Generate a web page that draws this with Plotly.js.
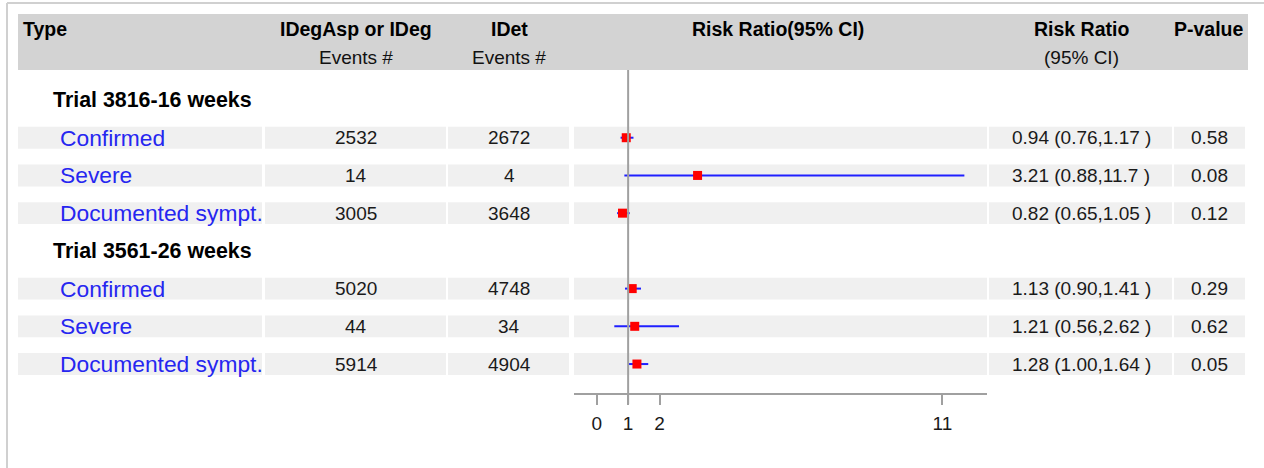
<!DOCTYPE html>
<html>
<head>
<meta charset="utf-8">
<script src="https://cdn.plot.ly/plotly-3.0.1.min.js"></script>
<style>
  html, body { margin: 0; padding: 0; background: #ffffff; }
  #chart { width: 1264px; height: 468px; }
</style>
</head>
<body>
<div id="chart"></div>
<script>
// ---------------- data ----------------
const groups = ["Trial 3816-16 weeks", "Trial 3561-26 weeks"];
const groupOf = [0, 0, 0, 1, 1, 1];
const types = ["Confirmed", "Severe", "Documented sympt.", "Confirmed", "Severe", "Documented sympt."];
const idegEvents = [2532, 14, 3005, 5020, 44, 5914];
const idetEvents = [2672, 4, 3648, 4748, 34, 4904];
const riskRatio = [0.94, 3.21, 0.82, 1.13, 1.21, 1.28];
const ciLower = [0.76, 0.88, 0.65, 0.90, 0.56, 1.00];
const ciUpper = [1.17, 11.7, 1.05, 1.41, 2.62, 1.64];
const pValues = [0.58, 0.08, 0.12, 0.29, 0.62, 0.05];
const xTickVals = [0, 1, 2, 11];
const xTickText = ["0", "1", "2", "11"];
const headerTop = ["Type", "IDegAsp or IDeg", "IDet", "Risk Ratio(95% CI)", "Risk Ratio", "P-value"];
const headerSub = ["", "Events #", "Events #", "", "(95% CI)", ""];

// ---------------- layout helpers (pixels) ----------------
const W = 1264, H = 468;
const px = x => x / W;
const py = y => 1 - y / H;
const FONT = "Liberation Sans, Arial, Helvetica, sans-serif";
const ROW0 = 100, PITCH = 37.72;
const yRange = [(H - ROW0) / PITCH, -ROW0 / PITCH];

// row index for each data row and group headings
const headingRow = [];
const dataRow = [];
let r = 0;
groups.forEach((g, gi) => {
  headingRow.push(r); r++;
  groupOf.forEach((go, i) => { if (go === gi) { dataRow[i] = r; r++; } });
});

const cols = [[18, 262], [265, 446], [448, 569], [574, 987], [989, 1172], [1174, 1245]];
const headerCenters = [null, 356, 509, 778, 1081, 1209];

const fmt = v => (v >= 10 ? v.toFixed(1) : v.toFixed(2));

const shapes = [];
const annotations = [];

// outer frame lines
shapes.push({type: "line", xref: "paper", yref: "paper", x0: px(7), x1: 1, y0: py(3), y1: py(3),
  line: {color: "#d0d0d0", width: 2}, layer: "below"});
shapes.push({type: "line", xref: "paper", yref: "paper", x0: px(7), x1: px(7), y0: py(3), y1: 0,
  line: {color: "#d0d0d0", width: 2}, layer: "below"});

// header band
shapes.push({type: "rect", xref: "paper", yref: "paper", x0: px(18), x1: px(1248), y0: py(70), y1: py(14),
  fillcolor: "#d3d3d3", line: {width: 0}, layer: "below"});

// row bands
dataRow.forEach(rowIdx => {
  cols.forEach(c => {
    shapes.push({type: "rect", xref: "paper", yref: "y", x0: px(c[0]), x1: px(c[1]),
      y0: rowIdx - 0.29, y1: rowIdx + 0.29, fillcolor: "#f0f0f0", line: {width: 0}, layer: "below"});
  });
});

// reference line at RR = 1
shapes.push({type: "line", xref: "x", yref: "paper", x0: 1, x1: 1, y0: py(70), y1: py(404),
  line: {color: "#a0a0a0", width: 2}, layer: "above"});

// header texts
annotations.push({text: "<b>" + headerTop[0] + "</b>", xref: "paper", yref: "paper", x: px(21), y: py(29),
  xanchor: "left", yanchor: "middle", showarrow: false, font: {family: FONT, size: 19.5, color: "#000"}});
for (let k = 1; k < headerTop.length; k++) {
  annotations.push({text: "<b>" + headerTop[k] + "</b>", xref: "paper", yref: "paper", x: px(headerCenters[k]), y: py(29),
    xanchor: "center", yanchor: "middle", showarrow: false, font: {family: FONT, size: 19.5, color: "#000"}});
  if (headerSub[k]) {
    annotations.push({text: headerSub[k], xref: "paper", yref: "paper", x: px(headerCenters[k]), y: py(57),
      xanchor: "center", yanchor: "middle", showarrow: false, font: {family: FONT, size: 19, color: "#111"}});
  }
}

// group headings
groups.forEach((g, gi) => {
  annotations.push({text: "<b>" + g + "</b>", xref: "paper", yref: "y", x: px(51), y: headingRow[gi],
    xanchor: "left", yanchor: "middle", showarrow: false, font: {family: FONT, size: 21.4, color: "#000"}});
});

// data rows text
types.forEach((t, i) => {
  const y = dataRow[i];
  annotations.push({text: t, xref: "paper", yref: "y", x: px(58), y: y, xanchor: "left", yanchor: "middle",
    showarrow: false, font: {family: FONT, size: 22.8, color: "#2626f0"}});
  annotations.push({text: String(idegEvents[i]), xref: "paper", yref: "y", x: px(356), y: y, xanchor: "center", yanchor: "middle",
    showarrow: false, font: {family: FONT, size: 19, color: "#1a1a1a"}});
  annotations.push({text: String(idetEvents[i]), xref: "paper", yref: "y", x: px(509), y: y, xanchor: "center", yanchor: "middle",
    showarrow: false, font: {family: FONT, size: 19, color: "#1a1a1a"}});
  annotations.push({text: fmt(riskRatio[i]) + " (" + fmt(ciLower[i]) + "," + fmt(ciUpper[i]) + " )",
    xref: "paper", yref: "y", x: px(1081), y: y, xanchor: "center", yanchor: "middle",
    showarrow: false, font: {family: FONT, size: 19, color: "#1a1a1a"}});
  annotations.push({text: pValues[i].toFixed(2), xref: "paper", yref: "y", x: px(1209), y: y, xanchor: "center", yanchor: "middle",
    showarrow: false, font: {family: FONT, size: 19, color: "#1a1a1a"}});
});

const trace = {
  type: "scatter",
  mode: "markers",
  x: riskRatio,
  y: dataRow,
  marker: {symbol: "square", size: 9, color: "#ff0000", line: {width: 0}},
  error_x: {
    type: "data", symmetric: false,
    array: riskRatio.map((v, i) => ciUpper[i] - v),
    arrayminus: riskRatio.map((v, i) => v - ciLower[i]),
    color: "#2020ff", thickness: 2, width: 0
  },
  hoverinfo: "skip",
  showlegend: false
};

const layout = {
  width: W, height: H,
  margin: {l: 0, r: 0, t: 0, b: 0, pad: 0},
  paper_bgcolor: "#ffffff",
  plot_bgcolor: "rgba(0,0,0,0)",
  showlegend: false,
  xaxis: {
    domain: [px(574), px(987)],
    range: [-0.7225, 12.42],
    anchor: "free",
    position: py(394),
    tickmode: "array", tickvals: xTickVals, ticktext: xTickText,
    ticks: "outside", ticklen: 10, tickwidth: 2, tickcolor: "#a0a0a0",
    ticklabelstandoff: 2,
    showline: true, linecolor: "#a0a0a0", linewidth: 2,
    showgrid: false, zeroline: false,
    tickfont: {family: FONT, size: 19, color: "#1a1a1a"},
    fixedrange: true
  },
  yaxis: {
    domain: [0, 1],
    range: yRange,
    visible: false,
    showgrid: false, zeroline: false,
    fixedrange: true
  },
  shapes: shapes,
  annotations: annotations
};

Plotly.newPlot("chart", [trace], layout, {displayModeBar: false, staticPlot: true});
</script>
</body>
</html>
